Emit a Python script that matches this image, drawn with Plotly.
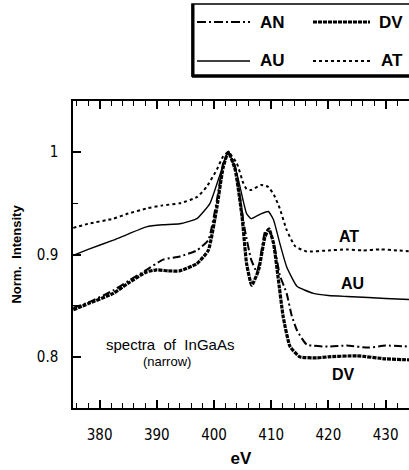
import plotly.graph_objects as go

# ---------------- data ----------------
at_x = [375.4, 378, 382.4, 385, 388.2, 391, 394, 397, 398.7, 400.5, 401.6, 402.5, 404.0, 405.1, 405.7,
        406.5, 408.3, 409.5, 410.5, 411.5, 412.7, 414.2, 416.2, 420, 423.2, 426, 429, 432, 434.4]
at_y = [0.926, 0.930, 0.935, 0.940, 0.945, 0.948, 0.950, 0.956, 0.966, 0.983, 0.996, 1.0, 0.989, 0.970, 0.964,
        0.963, 0.968, 0.966, 0.958, 0.945, 0.924, 0.908, 0.903, 0.904, 0.905, 0.904, 0.905, 0.904, 0.903]

au_x = [375.4, 378, 382.4, 385, 388.2, 391, 394, 397, 399.3, 401.1, 402.5, 404.0, 405.0, 405.7, 406.5,
        408.3, 409.5, 410.4, 411.5, 412.7, 414.5, 417.4, 420, 423.2, 427, 430, 434.4]
au_y = [0.899, 0.905, 0.914, 0.920, 0.927, 0.929, 0.930, 0.935, 0.950, 0.979, 1.0, 0.979, 0.955, 0.940, 0.935,
        0.940, 0.942, 0.934, 0.911, 0.888, 0.869, 0.862, 0.860, 0.859, 0.858, 0.857, 0.856]

an_x = [375.4, 378, 382.4, 385, 388.2, 391.1, 394, 397, 399, 400.5, 401.6, 402.5, 403.7, 404.6, 405.4,
        406.5, 407.5, 408.2, 408.9, 409.6, 410.5, 411.5, 412.7, 413.6, 414.5, 416.2, 420, 423.2, 427, 430, 434.4]
an_y = [0.848, 0.853, 0.865, 0.874, 0.885, 0.895, 0.898, 0.904, 0.914, 0.953, 0.989, 1.0, 0.986, 0.953, 0.924,
        0.895, 0.883, 0.900, 0.922, 0.925, 0.910, 0.880, 0.862, 0.840, 0.826, 0.812, 0.810, 0.811, 0.809, 0.811, 0.810]

dv_x = [375.4, 378, 382.4, 385, 388.2, 390, 392, 394, 397, 399, 400.5, 401.6, 402.5, 403.7, 404.9,
        405.7, 406.6, 407.8, 408.9, 409.6, 410.4, 411.2, 412.1, 413.3, 415, 418, 420, 425, 430, 434.4]
dv_y = [0.846, 0.852, 0.862, 0.872, 0.883, 0.885, 0.884, 0.884, 0.891, 0.904, 0.946, 0.985, 1.0, 0.983, 0.937,
        0.891, 0.870, 0.885, 0.917, 0.925, 0.911, 0.878, 0.839, 0.810, 0.800, 0.799, 0.800, 0.801, 0.798, 0.797]

x_tick_start, x_tick_step, x_minor_step = 380, 10, 2
y_tick_start, y_tick_step, y_minor_step = 0.8, 0.1, 0.05

# ---------------- layout geometry ----------------
W, H = 409, 470
L, T, B = 73, 101, 62
PW = W - L
PH = H - T - B

def px(xp):
    return (xp - L) / PW

def py(yp):
    return (H - B - yp) / PH

NARROW = "Liberation Sans Narrow, Arial Narrow, DejaVu Sans Condensed, Liberation Sans, Arial"
ARIAL = "Liberation Sans, Arial, Helvetica"

SM = 0.45
fig = go.Figure()
fig.add_trace(go.Scatter(x=at_x, y=at_y, mode="lines", name="AT",
                         line=dict(color="black", width=2, dash="dot", shape="spline", smoothing=SM)))
fig.add_trace(go.Scatter(x=au_x, y=au_y, mode="lines", name="AU",
                         line=dict(color="black", width=1.4, shape="spline", smoothing=SM)))
fig.add_trace(go.Scatter(x=an_x, y=an_y, mode="lines", name="AN",
                         line=dict(color="black", width=2, dash="8px,3px,2px,3px", shape="spline", smoothing=SM)))
fig.add_trace(go.Scatter(x=dv_x, y=dv_y, mode="lines", name="DV",
                         line=dict(color="black", width=3.2, dash="4px,1px", shape="spline", smoothing=SM)))

shapes = []
annotations = []

# legend box
shapes.append(dict(type="rect", xref="paper", yref="paper", x0=px(192), x1=px(430), y0=py(76), y1=py(4),
                   line=dict(color="black", width=1.5)))
shapes.append(dict(type="line", xref="paper", yref="paper", x0=px(193), x1=px(193), y0=py(77), y1=py(4),
                   line=dict(color="black", width=3)))
shapes.append(dict(type="line", xref="paper", yref="paper", x0=px(192), x1=px(430), y0=py(76), y1=py(76),
                   line=dict(color="black", width=3.5)))

legend_items = [
    ("AN", 197, 250, 22, 258, dict(width=2, dash="9px,3px,2px,3px")),
    ("DV", 313, 370, 22, 377, dict(width=3, dash="4px,1px")),
    ("AU", 197, 250, 61, 258, dict(width=1.4, dash="solid")),
    ("AT", 313, 370, 61, 379, dict(width=2, dash="dot")),
]
for name, x0, x1, yy, tx, ln in legend_items:
    shapes.append(dict(type="line", xref="paper", yref="paper", x0=px(x0), x1=px(x1), y0=py(yy), y1=py(yy),
                       line=dict(color="black", **ln)))
    annotations.append(dict(text=name, xref="paper", yref="paper", x=px(tx), y=py(yy), xanchor="left",
                            yanchor="middle", showarrow=False,
                            font=dict(family=ARIAL, size=17, color="black", weight="bold")))

# in-plot labels
for text, xe, ye in [("AT", 423.6, 0.918), ("AU", 424.3, 0.872), ("DV", 422.6, 0.783)]:
    annotations.append(dict(text=text, x=xe, y=ye, xref="x", yref="y", showarrow=False,
                            font=dict(family=ARIAL, size=16, color="black", weight="bold")))
annotations.append(dict(text="spectra\u00a0 of\u00a0 InGaAs", x=392.3, y=0.8125, xref="x", yref="y",
                        showarrow=False, font=dict(family=ARIAL, size=15, color="black")))
annotations.append(dict(text="(narrow)", x=391.7, y=0.7958, xref="x", yref="y",
                        showarrow=False, font=dict(family=ARIAL, size=13, color="black")))

fig.update_layout(
    width=W, height=H,
    margin=dict(l=L, r=0, t=T, b=B, pad=0),
    paper_bgcolor="white", plot_bgcolor="white",
    showlegend=False,
    shapes=shapes,
    annotations=annotations,
)
fig.update_xaxes(
    range=[375.35, 375.35 + PW / 5.72],
    tickmode="linear", tick0=x_tick_start, dtick=x_tick_step,
    ticks="inside", ticklen=8, tickwidth=1.6, tickcolor="black",
    minor=dict(dtick=x_minor_step, ticks="inside", ticklen=5, tickwidth=1.3, tickcolor="black"),
    showline=True, linecolor="black", linewidth=1.5, mirror="allticks",
    showgrid=False, zeroline=False,
    tickfont=dict(family=NARROW, size=15, color="black"),
    ticklabelstandoff=12,
    title=dict(text="eV", font=dict(family=ARIAL, size=17, color="black", weight="bold"), standoff=9),
)
fig.update_yaxes(
    range=[0.75, 1.05],
    tickmode="linear", tick0=y_tick_start, dtick=y_tick_step,
    ticks="inside", ticklen=8, tickwidth=1.6, tickcolor="black",
    minor=dict(dtick=y_minor_step, ticks="inside", ticklen=5, tickwidth=1.3, tickcolor="black"),
    showline=True, linecolor="black", linewidth=1.5, mirror=False,
    showgrid=False, zeroline=False,
    tickfont=dict(family=NARROW, size=15, color="black"),
    ticklabelstandoff=10,
    title=dict(text="Norm.  Intensity", font=dict(family=ARIAL, size=13, color="black", weight="bold"),
               standoff=12),
)

fig.write_html("out.html")
